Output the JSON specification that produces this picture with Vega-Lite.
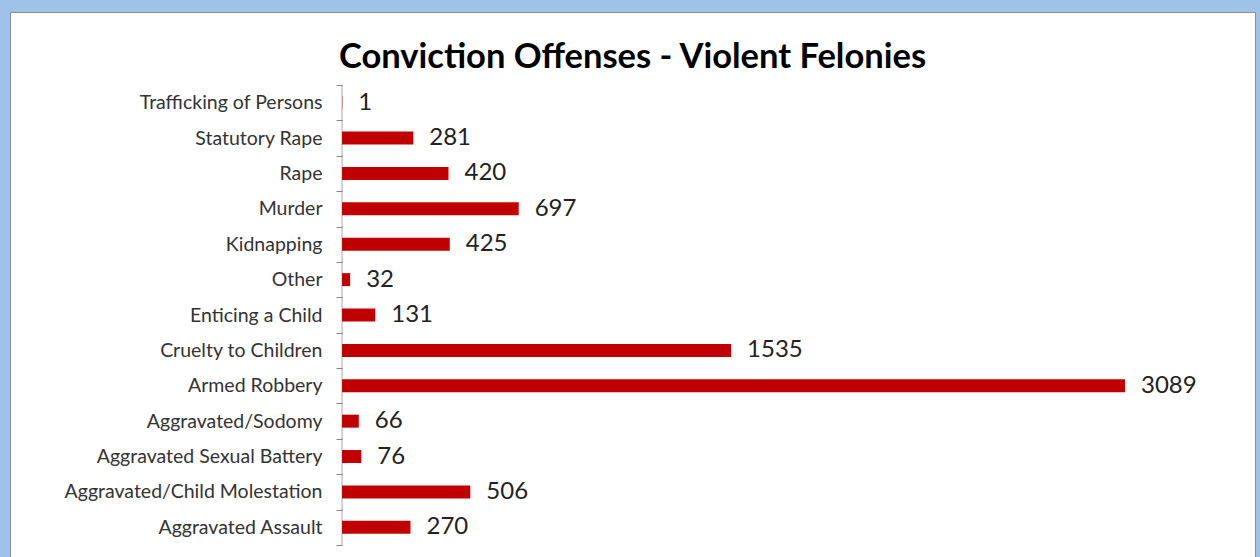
{
  "$schema": "https://vega.github.io/schema/vega-lite/v6.json",
  "width": 1245,
  "height": 545,
  "padding": {"left": 10, "top": 12, "right": 5, "bottom": 0},
  "autosize": {"type": "none"},
  "background": "#9ec2e8",
  "config": {
    "view": {"fill": "#ffffff", "stroke": "#8c8c8c", "strokeWidth": 1},
    "font": "Lato"
  },
  "title": {
    "text": "Conviction Offenses - Violent Felonies",
    "font": "Lato",
    "fontSize": 34.5,
    "fontWeight": "bold",
    "color": "#000000",
    "anchor": "middle",
    "frame": "group",
    "baseline": "alphabetic",
    "offset": -52,
    "dy": 48
  },
  "data": {
    "values": [
      {"offense": "Trafficking of Persons", "count": 1},
      {"offense": "Statutory Rape", "count": 281},
      {"offense": "Rape", "count": 420},
      {"offense": "Murder", "count": 697},
      {"offense": "Kidnapping", "count": 425},
      {"offense": "Other", "count": 32},
      {"offense": "Enticing a Child", "count": 131},
      {"offense": "Cruelty to Children", "count": 1535},
      {"offense": "Armed Robbery", "count": 3089},
      {"offense": "Aggravated/Sodomy", "count": 66},
      {"offense": "Aggravated Sexual Battery", "count": 76},
      {"offense": "Aggravated/Child Molestation", "count": 506},
      {"offense": "Aggravated Assault", "count": 270}
    ]
  },
  "encoding": {
    "y": {
      "field": "offense",
      "type": "nominal",
      "sort": null,
      "scale": {"paddingInner": 0, "paddingOuter": 0, "range": [73, 533]},
      "axis": {
        "title": null,
        "domain": false,
        "offset": -332,
        "tickBand": "extent",
        "tickSize": 6,
        "tickColor": "#868686",
        "labelPadding": 14,
        "labelFont": "Lato",
        "labelFontSize": 19.5,
        "labelLimit": 400,
        "labelColor": "#333333",
        "grid": false
      }
    }
  },
  "layer": [
    {
      "mark": {"type": "tick", "color": "#868686", "thickness": 1, "size": 36, "orient": "vertical"},
      "encoding": {
        "x": {"datum": 0, "type": "quantitative", "scale": {"domain": [-1310, 3602], "nice": false, "zero": false}, "axis": null}
      }
    },
    {
      "mark": {"type": "bar", "color": "#c00000", "size": 13},
      "encoding": {
        "x": {"field": "count", "type": "quantitative"}
      }
    },
    {
      "mark": {"type": "text", "align": "left", "baseline": "middle", "dx": 16, "fontSize": 24, "font": "Lato", "color": "#222222"},
      "encoding": {
        "x": {"field": "count", "type": "quantitative"},
        "text": {"field": "count", "type": "quantitative"}
      }
    }
  ]
}
